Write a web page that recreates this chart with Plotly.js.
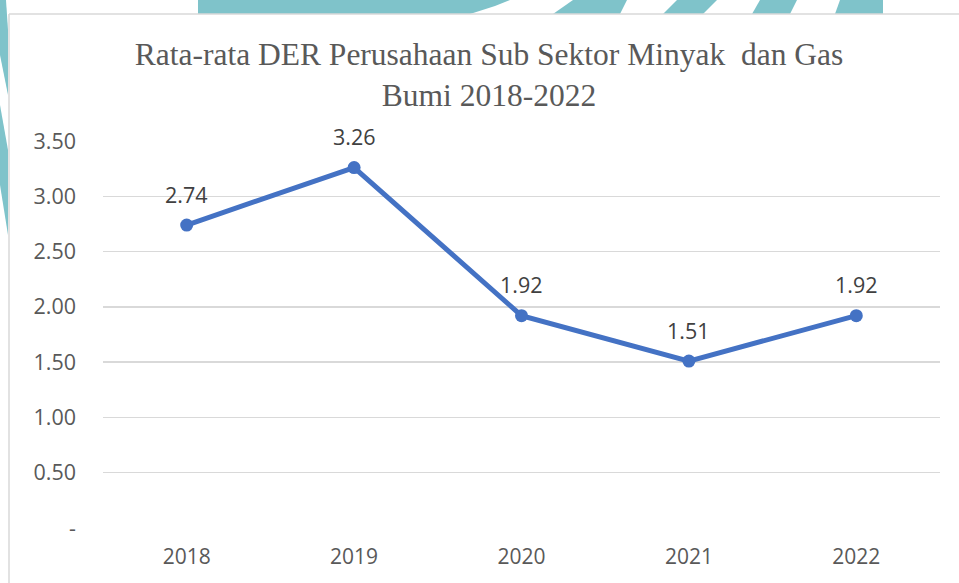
<!DOCTYPE html>
<html>
<head>
<meta charset="utf-8">
<script src="https://cdn.plot.ly/plotly-3.0.1.min.js"></script>
<style>html,body{margin:0;padding:0;background:#fff;}#chart{width:959px;height:583px;}</style>
</head>
<body>
<div id="chart"></div>
<script>
// ---- data ----
const years = ["2018", "2019", "2020", "2021", "2022"];
const derValues = [2.74, 3.26, 1.92, 1.51, 1.92];
const derLabels = ["2.74", "3.26", "1.92", "1.51", "1.92"];
const yTickVals = [0, 0.5, 1.0, 1.5, 2.0, 2.5, 3.0, 3.5];
const yTickText = ["-", "0.50", "1.00", "1.50", "2.00", "2.50", "3.00", "3.50"];
const chartTitle = "Rata-rata DER Perusahaan Sub Sektor Minyak  dan Gas<br>Bumi 2018-2022";

// ---- layout geometry (pixels) ----
const W = 959, H = 583;
const L = 103, R = 940, T = 141, B = 528;
const px = x => (x - L) / (R - L);
const py = y => (B - y) / (B - T);
function poly(points, color) {
  const d = points.map((p, i) => (i ? "L" : "M") + px(p[0]).toFixed(5) + "," + py(p[1]).toFixed(5)).join(" ") + " Z";
  return {type: "path", xref: "paper", yref: "paper", path: d, fillcolor: color, line: {width: 0}, layer: "below"};
}
const teal = "#7fc3ca";
const decor = [
  poly([[198,0],[510,0],[495,6],[470,14],[198,14]], teal),
  poly([[573,0],[627,0],[620,14],[553,14]], teal),
  poly([[677,0],[717,0],[703,14],[663,14]], teal),
  poly([[760,0],[797,0],[790,14],[752,14]], teal),
  poly([[840,0],[883,0],[883,14],[835,14]], teal),
  poly([[0,0],[6,0],[8,30],[8,95],[0,55]], teal),
  poly([[0,105],[8,150],[8,235],[0,185]], teal),
  {type: "line", xref: "paper", yref: "paper", x0: px(9), x1: px(959), y0: py(14), y1: py(14), line: {color: "#d9d9d9", width: 1.5}},
  {type: "line", xref: "paper", yref: "paper", x0: px(9), x1: px(9), y0: py(14), y1: py(583), line: {color: "#d9d9d9", width: 1.5}}
];

const trace = {
  x: years, y: derValues, type: "scatter", mode: "lines+markers",
  line: {color: "#4472c4", width: 5},
  marker: {color: "#4472c4", size: 13},
  hoverinfo: "skip", showlegend: false
};

// category axes place annotations by category index
const annotations = years.map((yr, i) => ({
  x: i, y: derValues[i], xref: "x", yref: "y", text: derLabels[i],
  showarrow: false, yanchor: "middle", yshift: 31,
  font: {family: "Open Sans, Liberation Sans, sans-serif", size: 21.5, color: "#404040"}
}));

const layout = {
  width: W, height: H,
  margin: {l: L, r: W - R, t: T, b: H - B},
  paper_bgcolor: "#ffffff", plot_bgcolor: "rgba(0,0,0,0)",
  title: {
    text: chartTitle, x: 489 / W, xanchor: "center", xref: "container",
    y: 1 - 65 / H, yanchor: "top", yref: "container",
    font: {family: "Liberation Serif, Times New Roman, serif", size: 31.5, color: "#595959"}
  },
  xaxis: {
    type: "category", range: [-0.5, 4.5], showgrid: false, zeroline: false, showline: false,
    ticks: "", ticklabelstandoff: 14,
    tickfont: {family: "Open Sans, Liberation Sans, sans-serif", size: 21, color: "#595959"}
  },
  yaxis: {
    range: [0, 3.5], tickvals: yTickVals, ticktext: yTickText,
    showgrid: true, gridcolor: "#d9d9d9", gridwidth: 1.3, zeroline: false, showline: false,
    ticks: "", ticklabelstandoff: 26,
    tickfont: {family: "Open Sans, Liberation Sans, sans-serif", size: 21.5, color: "#595959"}
  },
  shapes: decor,
  annotations: annotations
};

Plotly.newPlot("chart", [trace], layout, {displayModeBar: false, staticPlot: true});
</script>
</body>
</html>
